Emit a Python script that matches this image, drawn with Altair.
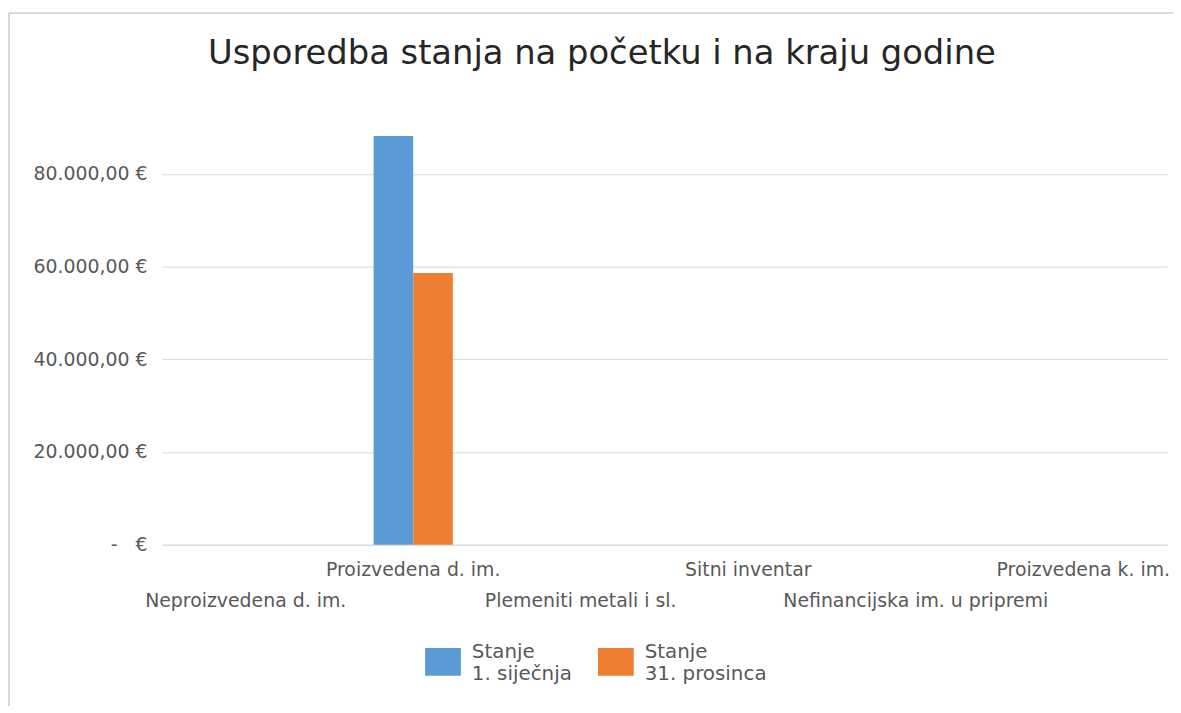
import altair as alt
import pandas as pd

categories = [
    "Neproizvedena d. im.",
    "Proizvedena d. im.",
    "Plemeniti metali i sl.",
    "Sitni inventar",
    "Nefinancijska im. u pripremi",
    "Proizvedena k. im.",
]
upper_row = ["Proizvedena d. im.", "Sitni inventar", "Proizvedena k. im."]
series = ["Stanje 1. siječnja", "Stanje 31. prosinca"]
stanje_1_sijecnja = [0, 88200, 0, 0, 0, 0]
stanje_31_prosinca = [0, 58650, 0, 0, 0, 0]
y_ticks = [0, 20000, 40000, 60000, 80000]
colors = ["#5B9BD5", "#ED7D31"]

rows = []
for c, a, b in zip(categories, stanje_1_sijecnja, stanje_31_prosinca):
    rows.append({"kategorija": c, "serija": series[0], "iznos": a})
    rows.append({"kategorija": c, "serija": series[1], "iznos": b})
df = pd.DataFrame(rows)

upper_js = "[" + ",".join("'" + u + "'" for u in upper_row) + "]"
FONT = "DejaVu Sans"

bars = alt.Chart(df).mark_bar().encode(
    x=alt.X(
        "kategorija:N",
        sort=categories,
        scale=alt.Scale(paddingInner=0.527, paddingOuter=0.2635),
        axis=alt.Axis(
            title=None,
            labelAngle=0,
            ticks=False,
            domainColor="#D9D9D9",
            labelPadding=16,
            labelFont=FONT,
            labelFontSize=19,
            labelColor="#595959",
            labelLineHeight=31,
            labelOverlap=False,
            labelBound=False,
            labelLimit=500,
            labelBaseline="top",
            labelExpr=f"indexof({upper_js}, datum.value) >= 0 ? datum.value : ['', datum.value]",
        ),
    ),
    xOffset=alt.XOffset("serija:N", sort=series),
    y=alt.Y(
        "iznos:Q",
        scale=alt.Scale(domain=[0, 90000], nice=False),
        axis=alt.Axis(
            title=None,
            values=y_ticks,
            domain=False,
            ticks=False,
            gridColor="#D9D9D9",
            labelPadding=15,
            labelFont=FONT,
            labelFontSize=19,
            labelColor="#595959",
            labelLimit=300,
            labelExpr="datum.value == 0 ? '-\u00a0\u00a0\u00a0€' : replace(replace(replace(format(datum.value, ',.2f'), ',', '#'), '.', ','), '#', '.') + ' €'",
        ),
    ),
    color=alt.Color(
        "serija:N",
        sort=series,
        scale=alt.Scale(domain=series, range=colors),
        legend=alt.Legend(
            title=None,
            orient="none",
            legendX=265,
            legendY=520,
            direction="horizontal",
            padding=0,
            symbolType="M-1,-0.78H1V0.78H-1Z",
            symbolSize=1296,
            symbolStrokeWidth=0,
            labelOffset=11,
            columnPadding=26,
            labelFont=FONT,
            labelFontSize=20,
            labelLimit=300,
            labelBaseline="bottom",
            labelColor="#595959",
            labelExpr="['Stanje', replace(datum.label, 'Stanje ', '')]",
        ),
    ),
)

top_border = alt.Chart(df).mark_rule(color="#D9D9D9", strokeWidth=1).encode(
    x=alt.value(-154), x2=alt.value(1018), y=alt.value(-115)
)
left_border = alt.Chart(df).mark_rule(color="#D9D9D9", strokeWidth=1).encode(
    x=alt.value(-154), y=alt.value(-115), y2=alt.value(590)
)

chart = (
    alt.layer(bars, top_border, left_border)
    .properties(
        width=1012,
        height=420,
        autosize=alt.AutoSizeParams(type="none"),
        padding={"left": 155, "top": 118, "right": 6, "bottom": 160},
        title=alt.Title(
            "Usporedba stanja na početku i na kraju godine",
            font=FONT,
            fontSize=34,
            fontWeight="normal",
            color="#262626",
            anchor="middle",
            frame="group",
            dx=-63,
            offset=-85,
            baseline="alphabetic",
        ),
    )
    .configure(background="white")
    .configure_view(strokeWidth=0, stroke="transparent")
)

chart.save("out.html", embed_options={"renderer": "svg", "actions": False})
